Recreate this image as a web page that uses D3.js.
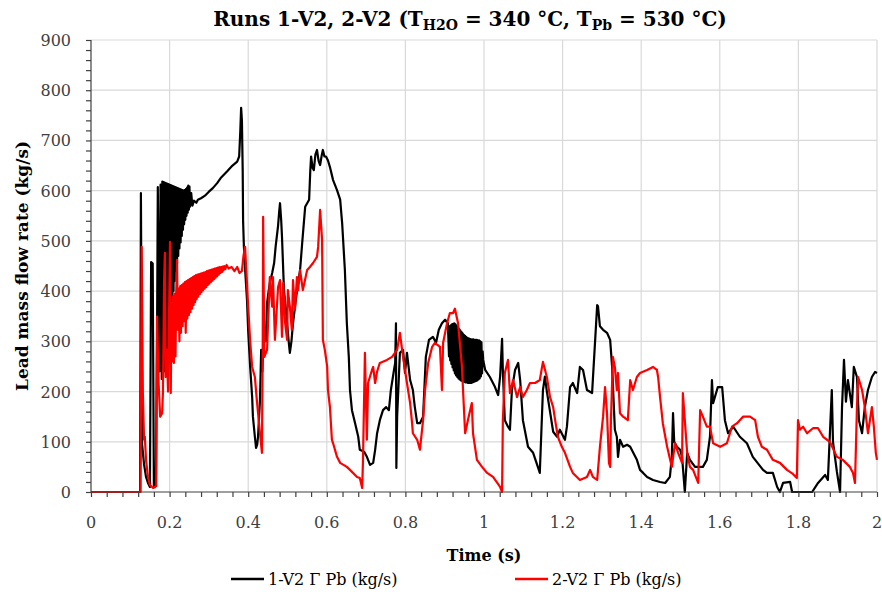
<!DOCTYPE html>
<html>
<head>
<meta charset="utf-8">
<script src="https://cdn.jsdelivr.net/npm/d3@7"></script>
<style>
  body { margin: 0; background: #fff; }
  svg { display: block; font-family: "DejaVu Serif", "Liberation Serif", serif; }
</style>
</head>
<body>
<svg id="chart"></svg>
<script>
// Time (s) and lead mass flow rate (kg/s)
const timeRun1 = [0, 0.125, 0.127, 0.130, 0.135, 0.140, 0.145, 0.150, 0.153, 0.157, 0.160, 0.165, 0.168, 0.170, 0.174, 0.177,
  0.1800, 0.1815, 0.1830, 0.1845, 0.1860, 0.1875, 0.1890, 0.1905, 0.1920, 0.1935, 0.1950, 0.1965, 0.1980, 0.1995, 0.2010, 0.2025,
  0.2040, 0.2055, 0.2070, 0.2085, 0.2100, 0.2115, 0.2130, 0.2145, 0.2160, 0.2175, 0.2190, 0.2205, 0.2220, 0.2235, 0.2250, 0.2265,
  0.2280, 0.2295, 0.2310, 0.2325, 0.2340, 0.2355, 0.2370, 0.2385, 0.2400, 0.2415, 0.2430, 0.2445, 0.2460, 0.2475, 0.2490, 0.2505,
  0.2520,
  0.255, 0.258, 0.262, 0.268, 0.272, 0.280, 0.290, 0.300, 0.310, 0.321, 0.330, 0.346,
  0.360, 0.372, 0.377, 0.380, 0.382, 0.384, 0.386, 0.387, 0.389, 0.392, 0.397, 0.400, 0.405, 0.410, 0.412, 0.417, 0.420, 0.423,
  0.425, 0.430, 0.433, 0.436, 0.440, 0.445, 0.448, 0.452, 0.455, 0.461, 0.466, 0.470, 0.476, 0.479, 0.481, 0.484, 0.486, 0.491,
  0.495, 0.499, 0.503, 0.506, 0.510, 0.514, 0.522, 0.532, 0.537, 0.545, 0.555, 0.558, 0.560, 0.564, 0.567, 0.571, 0.575, 0.579,
  0.583, 0.587, 0.590, 0.594, 0.598, 0.603, 0.608, 0.616, 0.626, 0.634, 0.639, 0.646, 0.651, 0.656, 0.659, 0.664, 0.672, 0.680,
  0.684, 0.695, 0.702, 0.710, 0.718, 0.723, 0.728, 0.735, 0.743, 0.751, 0.758, 0.763, 0.771, 0.774, 0.776, 0.777, 0.779, 0.786,
  0.794, 0.799, 0.804, 0.812, 0.819, 0.824, 0.830, 0.837, 0.845, 0.852, 0.860, 0.870, 0.878, 0.885, 0.893, 0.901, 0.908,
  0.9110, 0.9125, 0.9140, 0.9155, 0.9170, 0.9185, 0.9200, 0.9215, 0.9230, 0.9245, 0.9260, 0.9275, 0.9290, 0.9305, 0.9320, 0.9335,
  0.9350, 0.9365, 0.9380, 0.9395, 0.9410, 0.9425, 0.9440, 0.9455, 0.9470, 0.9485, 0.9500, 0.9515, 0.9530, 0.9545, 0.9560, 0.9575,
  0.9590, 0.9605, 0.9620, 0.9635, 0.9650, 0.9665, 0.9680, 0.9695, 0.9710, 0.9725, 0.9740, 0.9755, 0.9770, 0.9785, 0.9800, 0.9815,
  0.9830, 0.9845, 0.9860, 0.9875, 0.9890, 0.9905, 0.9920, 0.9935, 0.9950, 0.9965, 0.9980,
  1.003, 1.015, 1.028, 1.036, 1.041, 1.046,
  1.048, 1.053, 1.061, 1.066, 1.071, 1.079, 1.087, 1.092, 1.099, 1.112, 1.125, 1.137, 1.142, 1.150, 1.155, 1.160, 1.168, 1.176,
  1.186, 1.193, 1.206, 1.211, 1.219, 1.226, 1.237, 1.244, 1.252, 1.262, 1.275, 1.288, 1.290, 1.295, 1.303, 1.313, 1.321, 1.326,
  1.333, 1.338, 1.341, 1.346, 1.354, 1.364, 1.372, 1.389, 1.397, 1.405, 1.415, 1.430, 1.448, 1.461, 1.473, 1.478, 1.481, 1.484,
  1.491, 1.499, 1.504, 1.511, 1.517, 1.524, 1.537, 1.557, 1.567, 1.575, 1.580, 1.583, 1.595, 1.606, 1.613, 1.621, 1.634, 1.651,
  1.669, 1.684, 1.710, 1.720, 1.735, 1.746, 1.753, 1.761, 1.779, 1.784, 1.835, 1.850, 1.868, 1.875, 1.885, 1.888, 1.898, 1.906,
  1.911, 1.916, 1.921, 1.926, 1.936, 1.941, 1.949, 1.954, 1.962, 1.969, 1.977, 1.987, 1.995, 2.000];
const flowRun1 = [0, 0, 595, 95, 55, 30, 18, 10, 458, 455, 10, 12, 300, 607, 240, 612,
  225, 618, 230, 617, 240, 616, 250, 615, 262, 614, 280, 613, 300, 612, 325, 611,
  350, 610, 375, 609, 400, 608, 420, 607, 440, 606, 455, 605, 470, 604, 485, 603,
  497, 602, 510, 601, 522, 600, 533, 601, 542, 603, 550, 606, 556, 610, 562, 608,
  568,
  595, 570, 580, 576, 582, 585, 590, 598, 605, 615, 625, 638,
  650, 658, 668, 720, 765, 740, 640, 540, 490, 445, 382, 320, 249, 190, 150, 110, 88, 95,
  110, 183, 283, 240, 330, 300, 376, 400, 416, 436, 456, 490, 530, 560, 575, 540, 508, 402,
  370, 336, 300, 277, 300, 336, 388, 442, 492, 568, 582, 640, 668, 645, 641, 672, 681, 660,
  651, 670, 681, 668, 668, 660, 647, 621, 601, 582, 536, 442, 336, 269, 203, 163, 137, 110,
  84, 80, 70, 54, 58, 84, 117, 143, 163, 169, 163, 203, 243, 257, 336, 48, 150, 277,
  283, 237, 277, 223, 203, 169, 137, 137, 150, 269, 303, 309, 297, 323, 336, 343, 336,
  270, 330, 262, 332, 255, 334, 248, 335, 242, 336, 236, 334, 232, 331, 229, 328,
  226, 325, 224, 322, 222, 319, 221, 316, 220, 313, 219, 311, 218, 309, 218, 307,
  217, 306, 217, 305, 217, 304, 217, 304, 218, 304, 219, 303, 220, 303, 221, 303,
  222, 302, 224, 302, 226, 300, 230, 298, 236, 280, 263,
  243, 229, 209, 193, 230, 305,
  240, 143, 130, 124, 203, 243, 257, 223, 143, 90, 78, 50, 38, 203, 230, 200, 160, 120,
  110, 124, 104, 130, 209, 217, 197, 249, 243, 203, 197, 372, 370, 330, 323, 317, 303, 249,
  124, 110, 70, 104, 90, 94, 90, 64, 44, 38, 30, 24, 20, 18, 30, 70, 157, 100,
  90, 84, 70, 0, 78, 64, 50, 50, 64, 110, 223, 177, 209, 209, 143, 117, 130, 110,
  97, 70, 44, 38, 38, 10, 0, 18, 20, 0, 0, 18, 34, 24, 203, 100, 40, 0,
  169, 263, 180, 223, 169, 249, 229, 143, 117, 169, 203, 229, 239, 237];

const timeRun2 = [0, 0.126, 0.129, 0.132, 0.135, 0.137, 0.140, 0.145, 0.150, 0.158, 0.163, 0.166, 0.168, 0.172, 0.176, 0.181,
  0.183, 0.186, 0.188, 0.190, 0.193, 0.196, 0.199,
  0.201, 0.203, 0.205, 0.207, 0.209, 0.211, 0.213, 0.215, 0.217, 0.219, 0.221, 0.223, 0.225, 0.227, 0.229, 0.231, 0.233, 0.235,
  0.237, 0.239, 0.241, 0.243, 0.245, 0.247, 0.249, 0.251, 0.253, 0.255, 0.257, 0.259, 0.261, 0.263, 0.265, 0.267, 0.269, 0.271,
  0.273, 0.275, 0.277, 0.279, 0.281, 0.283, 0.285, 0.287, 0.289, 0.291, 0.293, 0.295, 0.297, 0.299, 0.301, 0.303, 0.305, 0.307,
  0.309, 0.311, 0.313, 0.315, 0.317, 0.319, 0.321, 0.323, 0.325, 0.327, 0.329, 0.331, 0.333, 0.335, 0.337, 0.339,
  0.342, 0.345, 0.350, 0.358,
  0.365, 0.372, 0.378, 0.384, 0.388, 0.392, 0.396,
  0.399, 0.405, 0.410, 0.417, 0.422, 0.430, 0.435, 0.437, 0.438, 0.441, 0.448, 0.455, 0.461, 0.463, 0.468, 0.476, 0.481, 0.486,
  0.489, 0.494, 0.499, 0.501, 0.506, 0.511, 0.514, 0.519, 0.524, 0.527, 0.532, 0.539, 0.550, 0.557, 0.565, 0.575, 0.578, 0.583,
  0.588, 0.590, 0.595, 0.601, 0.603, 0.608, 0.613, 0.616, 0.626, 0.634, 0.651, 0.659, 0.677, 0.684, 0.690, 0.692, 0.697, 0.702,
  0.705, 0.715, 0.718, 0.723, 0.728, 0.735, 0.753, 0.766, 0.779, 0.786, 0.794, 0.804, 0.812, 0.817, 0.819, 0.830, 0.837, 0.845,
  0.850, 0.858, 0.868, 0.875, 0.888, 0.893, 0.896, 0.906, 0.913, 0.921, 0.926, 0.934, 0.944, 0.947, 0.952, 0.959, 0.969, 0.972,
  0.982, 0.995, 1.008, 1.023, 1.041, 1.046, 1.048, 1.053, 1.061, 1.066, 1.074, 1.084, 1.092, 1.099, 1.109, 1.117, 1.130, 1.142,
  1.150, 1.160, 1.168, 1.176, 1.181, 1.188, 1.198, 1.206, 1.219, 1.226, 1.244, 1.262, 1.270, 1.277, 1.288, 1.295, 1.303, 1.308,
  1.313, 1.318, 1.321, 1.323, 1.328, 1.333, 1.338, 1.341, 1.346, 1.354, 1.366, 1.372, 1.379, 1.389, 1.397, 1.415, 1.430, 1.440,
  1.443, 1.448, 1.455, 1.466, 1.478, 1.486, 1.494, 1.504, 1.506, 1.517, 1.524, 1.532, 1.545, 1.550, 1.557, 1.567, 1.575, 1.583,
  1.601, 1.618, 1.631, 1.644, 1.659, 1.677, 1.690, 1.697, 1.707, 1.720, 1.735, 1.753, 1.771, 1.786, 1.796, 1.799, 1.804, 1.812,
  1.822, 1.837, 1.850, 1.863, 1.880, 1.898, 1.913, 1.931, 1.939, 1.944, 1.949, 1.952, 1.962, 1.969, 1.977, 1.987, 1.992, 1.997,
  2.000];
const flowRun2 = [0, 0, 488, 197, 104, 110, 64, 30, 14, 8, 10, 12, 349, 217, 150, 157,
  197, 420, 476, 229, 283, 200, 380,
  498, 197, 376, 260, 390, 257, 395, 270, 400, 462, 323, 405, 300, 410, 317, 412, 330, 415,
  340, 418, 317, 420, 345, 422, 352, 424, 358, 426, 365, 428, 372, 430, 378, 432, 384, 433,
  389, 434, 394, 435, 398, 436, 402, 437, 405, 438, 408, 440, 412, 441, 415, 442, 418, 443,
  421, 444, 424, 445, 427, 446, 430, 447, 433, 448, 436, 448, 438, 449, 441, 450,
  444, 452, 445, 448,
  440, 448, 436, 440, 470, 488, 430,
  382, 300, 249, 229, 183, 117, 78, 300, 548, 269, 283, 428, 369, 428, 303, 408, 422, 309,
  416, 337, 303, 402, 369, 323, 422, 363, 428, 402, 442, 402, 442, 448, 456, 468, 488, 562,
  502, 303, 283, 249, 203, 169, 104, 97, 70, 58, 50, 44, 30, 28, 8, 60, 277, 104,
  217, 243, 249, 217, 240, 257, 263, 269, 283, 317, 269, 217, 177, 137, 117, 104, 84, 143,
  203, 257, 289, 297, 289, 203, 297, 336, 356, 356, 365, 336, 249, 197, 117, 143, 177, 117,
  64, 50, 38, 30, 10, 0, 143, 237, 263, 197, 223, 189, 209, 189, 203, 217, 217, 223,
  259, 229, 189, 169, 143, 110, 90, 78, 50, 38, 24, 30, 44, 30, 24, 90, 150, 209,
  157, 58, 50, 143, 269, 249, 203, 237, 157, 150, 143, 223, 203, 229, 237, 243, 249, 243,
  229, 189, 137, 90, 50, 97, 78, 58, 197, 78, 50, 44, 18, 163, 150, 130, 130, 97,
  90, 97, 130, 137, 150, 150, 143, 110, 90, 84, 64, 58, 44, 36, 28, 143, 124, 130,
  117, 127, 127, 110, 100, 70, 64, 50, 38, 18, 169, 229, 203, 169, 117, 169, 130, 78,
  64];

const xTickValues = [0, 0.2, 0.4, 0.6, 0.8, 1, 1.2, 1.4, 1.6, 1.8, 2];
const yTickValues = [0, 100, 200, 300, 400, 500, 600, 700, 800, 900];
const seriesNames = ["1-V2 \u0393 Pb (kg/s)", "2-V2 \u0393 Pb (kg/s)"];
const seriesColors = ["#000000", "#ff0000"];

const width = 882;
const height = 599;
const margin = { top: 40, right: 5, bottom: 107, left: 91 };

const svg = d3.select("#chart")
  .attr("width", width)
  .attr("height", height);

const x = d3.scaleLinear()
  .domain([0, 2])
  .range([margin.left, width - margin.right]);

const y = d3.scaleLinear()
  .domain([0, 900])
  .range([height - margin.bottom, margin.top]);

function drawGrid() {
  const grid = svg.append("g").attr("class", "grid")
    .attr("stroke", "#d9d9d9")
    .attr("stroke-width", 1.2);

  grid.selectAll(".vline")
    .data(xTickValues.slice(1))
    .join("line")
    .attr("x1", d => x(d)).attr("x2", d => x(d))
    .attr("y1", y(0)).attr("y2", y(900));

  grid.selectAll(".hline")
    .data(yTickValues.slice(1))
    .join("line")
    .attr("x1", x(0)).attr("x2", x(2))
    .attr("y1", d => y(d)).attr("y2", d => y(d));
}

function drawAxes() {
  const axisColor = "#404040";

  // minor ticks every 0.04 s and every 20 kg/s
  const xMinor = d3.range(0, 51).map(i => i * 0.04);
  const yMinor = d3.range(0, 46).map(i => i * 20);

  const xAxis = svg.append("g")
    .attr("transform", `translate(0,${y(0)})`)
    .call(d3.axisBottom(x).tickValues(xMinor).tickSize(5).tickFormat(""));
  xAxis.select(".domain").remove();

  const yAxis = svg.append("g")
    .attr("transform", `translate(${x(0)},0)`)
    .call(d3.axisLeft(y).tickValues(yMinor).tickSize(5).tickFormat(""));
  yAxis.select(".domain").remove();

  svg.selectAll(".tick line").attr("stroke", axisColor).attr("stroke-width", 1.2);

  svg.append("line")
    .attr("x1", x(0)).attr("x2", x(2))
    .attr("y1", y(0)).attr("y2", y(0))
    .attr("stroke", axisColor).attr("stroke-width", 1.2);
  svg.append("line")
    .attr("x1", x(0)).attr("x2", x(0))
    .attr("y1", y(0)).attr("y2", y(900))
    .attr("stroke", axisColor).attr("stroke-width", 1.2);

  svg.append("g")
    .selectAll("text")
    .data(xTickValues)
    .join("text")
    .attr("x", d => x(d))
    .attr("y", y(0) + 36)
    .attr("text-anchor", "middle")
    .attr("font-size", 16)
    .attr("fill", "#404040")
    .text(d => d3.format("~g")(d));

  svg.append("g")
    .selectAll("text")
    .data(yTickValues)
    .join("text")
    .attr("x", x(0) - 20)
    .attr("y", d => y(d) + 6)
    .attr("text-anchor", "end")
    .attr("font-size", 16)
    .attr("fill", "#404040")
    .text(d => d);

  svg.append("text")
    .attr("x", x(1))
    .attr("y", y(0) + 69)
    .attr("text-anchor", "middle")
    .attr("font-size", 16)
    .attr("font-weight", "bold")
    .text("Time (s)");

  svg.append("text")
    .attr("transform", `translate(28,${(y(0) + y(900)) / 2}) rotate(-90)`)
    .attr("text-anchor", "middle")
    .attr("font-size", 17)
    .attr("font-weight", "bold")
    .text("Lead mass flow rate (kg/s)");
}

function drawTitle() {
  const title = svg.append("text")
    .attr("x", 470)
    .attr("y", 26)
    .attr("text-anchor", "middle")
    .attr("font-size", 20)
    .attr("font-weight", "bold");

  title.append("tspan").text("Runs 1-V2, 2-V2 (T");
  title.append("tspan").attr("dy", 4).attr("font-size", 14).text("H2O");
  title.append("tspan").attr("dy", -4).text(" = 340 \u00B0C, T");
  title.append("tspan").attr("dy", 4).attr("font-size", 14).text("Pb");
  title.append("tspan").attr("dy", -4).text(" = 530 \u00B0C)");
}

function drawSeries() {
  const runs = [
    { name: seriesNames[0], color: seriesColors[0], t: timeRun1, v: flowRun1 },
    { name: seriesNames[1], color: seriesColors[1], t: timeRun2, v: flowRun2 }
  ];

  const line = d3.line()
    .x(d => x(d[0]))
    .y(d => y(d[1]));

  const plot = svg.append("g");
  runs.forEach(run => {
    if (run.t.length !== run.v.length) console.warn("length mismatch", run.name, run.t.length, run.v.length);
    plot.append("path")
      .datum(d3.zip(run.t, run.v))
      .attr("fill", "none")
      .attr("stroke", run.color)
      .attr("stroke-width", 2.2)
      .attr("stroke-linejoin", "round")
      .attr("d", line);
  });

  const legend = svg.append("g").attr("transform", "translate(0,579)");
  const legendX = [231, 515];
  runs.forEach((run, i) => {
    legend.append("line")
      .attr("x1", legendX[i]).attr("x2", legendX[i] + 33)
      .attr("y1", 0).attr("y2", 0)
      .attr("stroke", run.color)
      .attr("stroke-width", 2.5);
    legend.append("text")
      .attr("x", legendX[i] + 37)
      .attr("y", 6)
      .attr("font-size", 16)
      .text(run.name);
  });
}

drawGrid();
drawSeries();
drawAxes();
drawTitle();
</script>
</body>
</html>
